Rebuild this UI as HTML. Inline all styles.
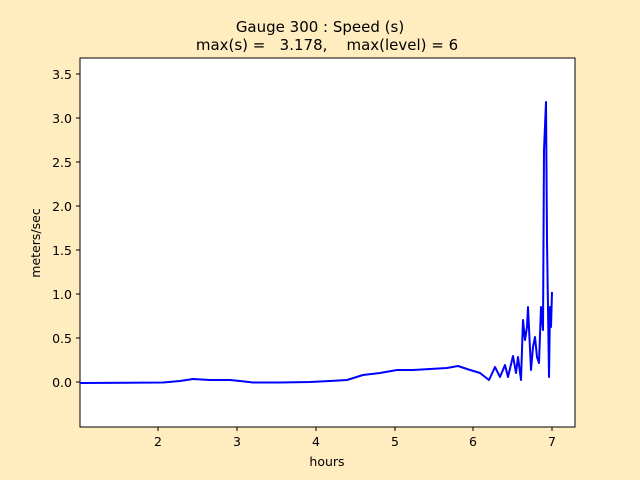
<!DOCTYPE html>
<html><head><style>body{margin:0;background:#ffeebf}svg{display:block}</style></head><body>
<svg width="640" height="480" xmlns="http://www.w3.org/2000/svg" font-family="DejaVu Sans, Liberation Sans, sans-serif">
<rect width="640" height="480" fill="#ffecbf"/>
<rect x="80" y="58" width="495" height="369" fill="#fff" stroke="#000" stroke-width="1"/>
<text x="320" y="32" font-size="15" text-anchor="middle">Gauge 300 : Speed (s)</text>
<text x="327" y="50" font-size="15" text-anchor="middle" xml:space="preserve">max(s) =   3.178,    max(level) = 6</text>
<g font-size="12.5" text-anchor="middle">
<line x1="158" y1="427" x2="158" y2="431" stroke="#000"/><text x="158" y="446">2</text>
<line x1="237" y1="427" x2="237" y2="431" stroke="#000"/><text x="237" y="446">3</text>
<line x1="316" y1="427" x2="316" y2="431" stroke="#000"/><text x="316" y="446">4</text>
<line x1="395" y1="427" x2="395" y2="431" stroke="#000"/><text x="395" y="446">5</text>
<line x1="473" y1="427" x2="473" y2="431" stroke="#000"/><text x="473" y="446">6</text>
<line x1="552" y1="427" x2="552" y2="431" stroke="#000"/><text x="552" y="446">7</text>
<text x="327" y="466">hours</text>
</g>
<g font-size="12.5" text-anchor="end">
<line x1="76" y1="382" x2="80" y2="382" stroke="#000"/><text x="72" y="387">0.0</text>
<line x1="76" y1="338" x2="80" y2="338" stroke="#000"/><text x="72" y="343">0.5</text>
<line x1="76" y1="294" x2="80" y2="294" stroke="#000"/><text x="72" y="299">1.0</text>
<line x1="76" y1="250" x2="80" y2="250" stroke="#000"/><text x="72" y="255">1.5</text>
<line x1="76" y1="206" x2="80" y2="206" stroke="#000"/><text x="72" y="211">2.0</text>
<line x1="76" y1="162" x2="80" y2="162" stroke="#000"/><text x="72" y="167">2.5</text>
<line x1="76" y1="118" x2="80" y2="118" stroke="#000"/><text x="72" y="123">3.0</text>
<line x1="76" y1="74" x2="80" y2="74" stroke="#000"/><text x="72" y="79">3.5</text>
</g>
<text transform="translate(40,243) rotate(-90)" font-size="12.5" text-anchor="middle">meters/sec</text>
<polyline fill="none" stroke="#0000ff" stroke-width="2" stroke-linejoin="round" points="80,383 163,382.5 180,381 193,379 210,380 230,380 240,381 253,382.5 280,382.5 310,382 330,381 347,380 363,375 380,373 397,370 413,370 430,369 447,368 458,366 467,369 480,373 489,380 495,367 500,377 505,365 508,377 513,356 516,373 518,357 521,380 523,320 525,340 527,327 528,307 531,370 533,347 535,337 537,357 539,363 541,307 543,330 544,150 546,102 547,240 549,377 550,307 551,327 552,292"/>
</svg>
</body></html>
